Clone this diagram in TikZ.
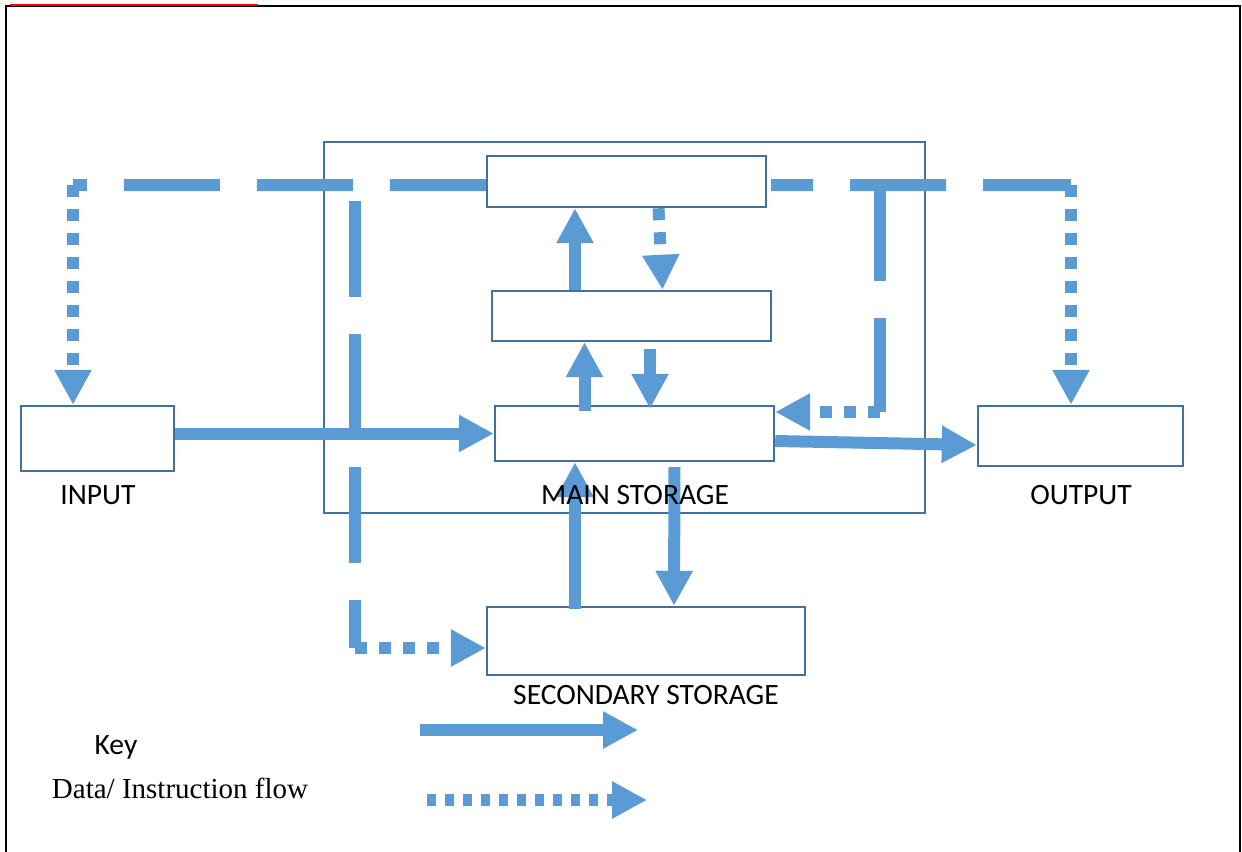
\documentclass[tikz,border=0pt]{standalone}
\usepackage{fontspec}
\setmainfont{Liberation Serif}
\newfontfamily\labelfont{Carlito}
\usetikzlibrary{arrows.meta,calc}
\definecolor{flowblue}{HTML}{5B9BD5}
\definecolor{boxblue}{HTML}{41719C}
\tikzset{
box/.style={draw=boxblue, line width=1.4pt, inner sep=0pt}, % the unit boxes
caption/.style={font=\labelfont\fontsize{16.8}{19}\selectfont, inner sep=0pt}, % names under the boxes
tip/.style={-{Triangle[length=0.7cm,width=0.7cm]}}, % big flat arrow head
dataflow/.style={draw=flowblue, line width=0.24cm, tip}, % solid arrows
ctrlline/.style={draw=flowblue, line width=0.24cm, dash pattern=on 1.92cm off 0.74cm}, % long dashes
dotflow/.style={draw=flowblue, line width=0.24cm, dash pattern=on 0.24cm off 0.24cm, tip}, % dotted arrows
}

\begin{document}
\begin{tikzpicture}[x=0.02cm, y=-0.02cm]
	\useasboundingbox (0,0) rectangle (1242,852);
	% page frame and cut off link
	\draw[line width=1.1pt] (6,852) -- (6,6) -- (1240,6) -- (1240,852);
	\draw[red, line width=1.6pt] (10,5) -- (258,5);

	% boxes
	\node[box, line width=1.1pt, minimum width=12.02cm, minimum height=7.42cm] (cpu) at (624.5,327.5) {};
	\node[box, minimum width=3.06cm, minimum height=1.3cm] (input) at (97.5,438.5) {};
	\node[box, minimum width=5.58cm, minimum height=1.02cm] (ctrl) at (626.5,181.5) {};
	\node[box, minimum width=5.58cm, minimum height=1.0cm] (alu) at (631.5,316) {};
	\node[box, minimum width=5.58cm, minimum height=1.1cm] (mem) at (634.5,433.5) {};
	\node[box, minimum width=4.1cm, minimum height=1.2cm] (output) at (1080.5,436) {};
	\node[box, minimum width=6.36cm, minimum height=1.36cm] (sec) at (646,641) {};

	% corners of the control lines
	\coordinate (tl) at (73,185);
	\coordinate (bl) at (355,185);
	\coordinate (br) at (880,185);
	\coordinate (tr) at (1071,185);
	\coordinate (cr) at (880,412);
	\coordinate (cl) at (355,648);

	% control lines
	\draw[ctrlline] ($(ctrl.west)+(0,3.5)$) -- (tl);
	\draw[ctrlline, dash phase=1.08cm] ($(ctrl.east)+(4,3.5)$) -- (tr);
	\draw[ctrlline, dash phase=2.34cm] (bl) -- (cl);
	\draw[ctrlline] (br) -- (cr);
	\draw[dotflow] (tl) -- (tl |- input.north);
	\draw[dotflow] (tr) -- (tr |- output.north);
	\draw[dotflow] (cr) -- (cr -| mem.east);
	\draw[dotflow] (cl) -- (cl -| sec.west);
	\draw[dotflow] ($(ctrl.south)+(32,0)$) -- ($(alu.north)+(31,0)$);

	% data flow
	\draw[dataflow] (input.east |- mem.west) -- (mem.west);
	\draw[dataflow] ($(mem.east)+(0,7.5)$) -- ($(output.west)+(0,9)$);
	\draw[dataflow] ($(mem.north)+(-50,6)$) -- ($(alu.south)+(-47,0)$);
	\draw[dataflow] ($(alu.south)+(18.5,7)$) -- ($(mem.north)+(15.5,4)$);
	\draw[dataflow] ($(alu.north)+(-56.5,0)$) -- ($(ctrl.south)+(-51.5,0)$);
	\draw[dataflow] ($(sec.north)+(-71,3)$) -- ($(mem.south)+(-59.5,0)$);
	\draw[dataflow] ($(mem.south)+(40,5)$) -- ($(sec.north)+(28,0)$);

	% names
	\node[caption] (inputname) at (98,495) {INPUT};
	\node[caption] (cpuname) at (635,495) {MAIN STORAGE};
	\node[caption] (outputname) at (1081,495) {OUTPUT};
	\node[caption] (secname) at (646,695) {SECONDARY STORAGE};

	% key
	\node[caption] (keyname) at (116,747) {Key};
	\node[font=\fontsize{16.5}{19}\selectfont, inner sep=0pt] (flowname) at (180,788) {Data/ Instruction flow};
	\coordinate (k1) at (420,730);
	\coordinate (k2) at (638,730);
	\coordinate (k3) at (427,800);
	\coordinate (k4) at (647,800);
	\draw[dataflow] (k1) -- (k2);
	\draw[dotflow, dash pattern=on 0.18cm off 0.18cm] (k3) -- (k4);
\end{tikzpicture}
\end{document}
